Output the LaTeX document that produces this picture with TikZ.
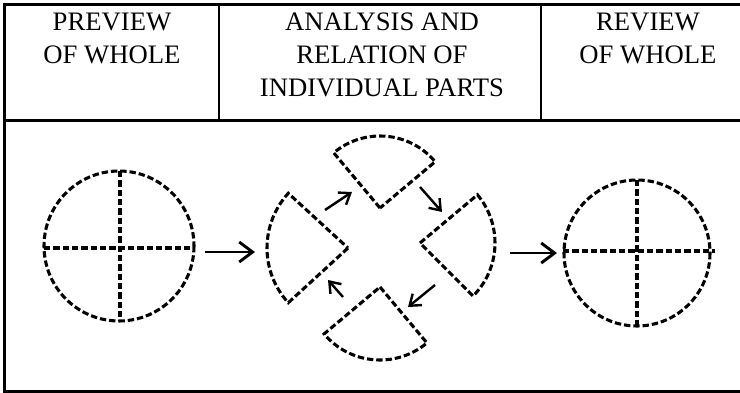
\documentclass[tikz,border=0pt]{standalone}
\usepackage{fontspec}
\setmainfont{Liberation Serif}
\usetikzlibrary{arrows.meta}

\tikzset{
  sketch/.style={line width=2.3pt, dash pattern=on 4.8pt off 2.2pt},
  head/.style={anchor=north, inner sep=0pt, align=center,
    font=\fontsize{20}{24.75}\selectfont},
  bigarrow/.style={->, line width=2.2pt, >={Straight Barb[length=10pt,width=15pt]}},
  smallarrow/.style={->, line width=1.8pt, >={Straight Barb[length=7.5pt,width=11pt]}}
}

\begin{document}
\begin{tikzpicture}[x=0.75pt,y=-0.75pt]
    \useasboundingbox (0,0) rectangle (740,393);

    % outer frame of the table
    \draw[line width=2.2pt] (740,4.5) -- (4.5,4.5) -- (4.5,391.5) -- (740,391.5);
    % header row
    \draw[line width=1.6pt] (4.5,120.5) -- (740,120.5);
    \draw[line width=1.8pt] (219,4.5) -- (219,120.5);
    \draw[line width=1.8pt] (541,4.5) -- (541,120.5);

    % column titles
    \node[head] (prev) at (112,13) {PREVIEW\\OF WHOLE};
    \node[head] (anal) at (382,13) {ANALYSIS AND\\RELATION OF\\INDIVIDUAL PARTS};
    \node[head] (rev) at (648,13) {REVIEW\\OF WHOLE};

    % whole, first look
    \coordinate (whole1) at (119,246);
    \draw[sketch] (whole1) circle[radius=75];
    \draw[sketch] (whole1) ++(-75,2) -- ++(150,0);
    \draw[sketch] (whole1) ++(1,-75) -- ++(0,150);

    %left part
    \coordinate (left) at (348,248);
    \draw[sketch] (left) -- ++(137.5:81) arc[start angle=137.5, end angle=222.5, radius=81] -- cycle;

    %top part
    \coordinate (top) at (380,208);
    \draw[sketch] (top) -- ++(-130:72) arc[start angle=-130, end angle=-40, radius=72] -- cycle;

    %right part
    \coordinate (right) at (420,243);
    \draw[sketch] (right) -- ++(-40:75) arc[start angle=-40, end angle=45, radius=75] -- cycle;

    %bottom part
    \coordinate (bottom) at (380,287);
    \draw[sketch] (bottom) -- ++(50:73) arc[start angle=50, end angle=140, radius=73] -- cycle;

    % whole, second look
    \coordinate (whole2) at (637,253);
    \draw[sketch] (whole2) circle[radius=73];
    \draw[sketch] (whole2) ++(-74,-2) -- ++(152,0);
    \draw[sketch] (whole2) ++(0,-73) -- ++(0,146);

    % arrows between the stages
    \coordinate (w1out) at (205,252);
    \coordinate (leftin) at (255,252);
    \draw[bigarrow] (w1out) -- (leftin);
    \coordinate (rightout) at (510,253);
    \coordinate (w2in) at (557,253);
    \draw[bigarrow] (rightout) -- (w2in);

    % arrows round the parts
    \coordinate (lt1) at (325,210);
    \coordinate (lt2) at (352,192);
    \draw[smallarrow] (lt1) -- (lt2);
    \coordinate (tr1) at (420,187);
    \coordinate (tr2) at (442,212);
    \draw[smallarrow] (tr1) -- (tr2);
    \coordinate (rb1) at (435,285);
    \coordinate (rb2) at (408,307);
    \draw[smallarrow] (rb1) -- (rb2);
    \coordinate (bl1) at (343,297);
    \coordinate (bl2) at (328,280);
    \draw[smallarrow] (bl1) -- (bl2);
\end{tikzpicture}
\end{document}
